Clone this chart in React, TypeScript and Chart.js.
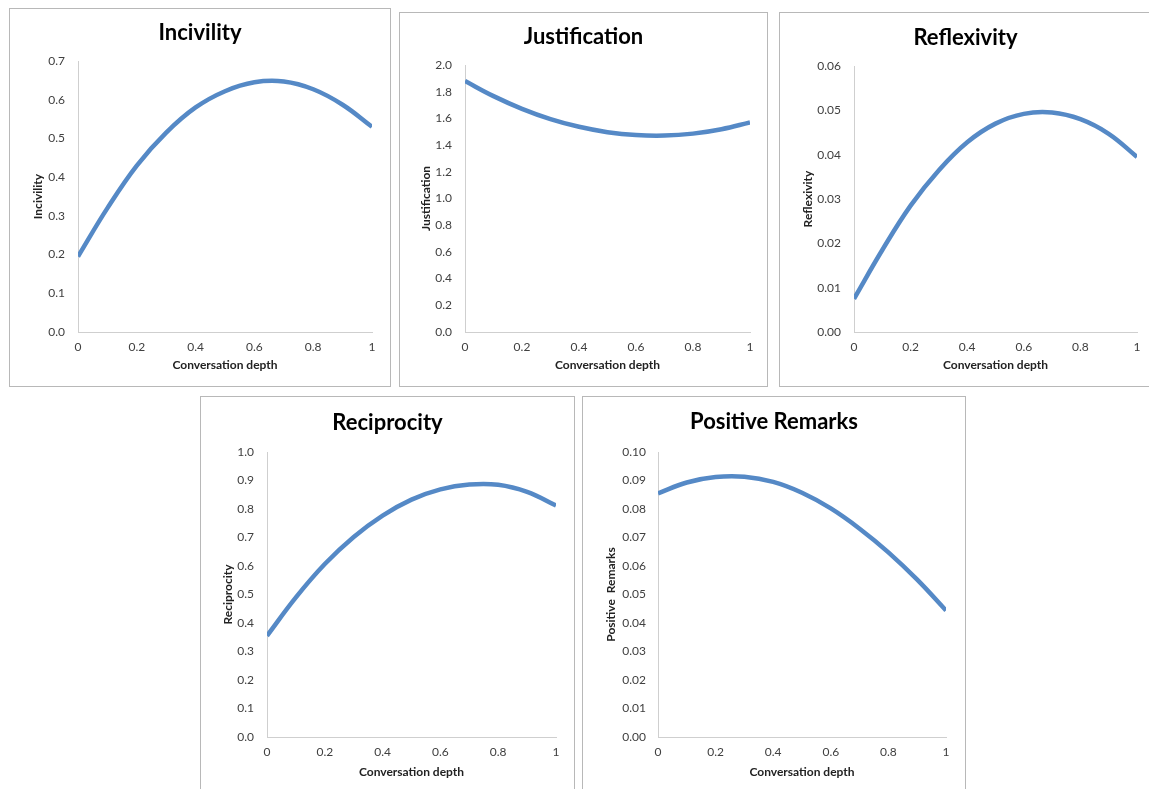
import React, { useEffect, useRef } from "react";
import { Chart, registerables } from "chart.js";

Chart.register(...registerables);

// ---------- data ----------
const depth = [0, 0.1, 0.2, 0.3, 0.4, 0.5, 0.6, 0.7, 0.8, 0.9, 1.0];
const xTicksLabelled = [0, 0.2, 0.4, 0.6, 0.8, 1];

const incivility = [0.195, 0.32, 0.43, 0.515, 0.58, 0.622, 0.645, 0.647, 0.627, 0.587, 0.53];
const justification = [1.88, 1.767, 1.672, 1.595, 1.537, 1.497, 1.475, 1.471, 1.486, 1.519, 1.57];
const reflexivity = [0.0075, 0.0185, 0.0285, 0.0365, 0.0428, 0.047, 0.0492, 0.0495, 0.048, 0.0447, 0.0395];
const reciprocity = [0.355, 0.49, 0.607, 0.702, 0.777, 0.833, 0.869, 0.886, 0.885, 0.86, 0.812];
const positiveRemarks = [0.0855, 0.0893, 0.0912, 0.0913, 0.0895, 0.0857, 0.0802, 0.0731, 0.0648, 0.0552, 0.0444];

const titles = ["Incivility", "Justification", "Reflexivity", "Reciprocity", "Positive Remarks"];
const yAxisTitles = ["Incivility", "Justification", "Reflexivity", "Reciprocity", "Positive  Remarks"];
const xAxisTitle = "Conversation depth";
const yMax = [0.7, 2.0, 0.06, 1.0, 0.1];
const yStep = [0.1, 0.2, 0.01, 0.1, 0.01];
const yDecimals = [1, 1, 2, 1, 2];
const seriesList = [incivility, justification, reflexivity, reciprocity, positiveRemarks];

// ---------- layout (absolute page pixels) ----------
type Box = {
  bl: number; bt: number; br: number; bb: number; // panel border box
  pl: number; pt: number; pr: number; pb: number; // plot area
  titleY: number; yTitleX: number; xTitleY: number; yPad: number;
};
const LAYOUT: Box[] = [
  { bl: 9, bt: 8, br: 391, bb: 387, pl: 78, pt: 61, pr: 372, pb: 332, titleY: 33, yTitleX: 38, xTitleY: 365, yPad: 13 },
  { bl: 399, bt: 12, br: 768, bb: 387, pl: 465, pt: 65, pr: 750, pb: 332, titleY: 37, yTitleX: 426, xTitleY: 365, yPad: 13 },
  { bl: 779, bt: 12, br: 1152, bb: 387, pl: 854, pt: 66, pr: 1137, pb: 332, titleY: 38, yTitleX: 808, xTitleY: 365, yPad: 13 },
  { bl: 200, bt: 396, br: 575, bb: 800, pl: 267, pt: 452, pr: 556, pb: 737, titleY: 423, yTitleX: 228, xTitleY: 772, yPad: 13 },
  { bl: 582, bt: 396, br: 966, bb: 800, pl: 658, pt: 452, pr: 946, pb: 737, titleY: 422, yTitleX: 611, xTitleY: 772, yPad: 12 },
];

const FONT = "Lato, 'Open Sans', sans-serif";
const TITLE_SIZE = 22;
const AXIS_TITLE_SIZE = 12;
const TICK_SIZE = 12;

function Panel({ idx }: { idx: number }) {
  const ref = useRef<HTMLCanvasElement>(null);
  const L = LAYOUT[idx];
  const cw = L.br - L.bl - 2;
  const ch = L.bb - L.bt - 2;
  const cl = L.bl + 1;
  const ct = L.bt + 1;

  useEffect(() => {
    if (!ref.current) return;
    const side = cl + cw - L.pr; // symmetric side padding keeps the title centred on the panel
    const plotTopRel = L.pt - ct;
    const titleTop = L.titleY - ct - (TITLE_SIZE * 1.2) / 2;
    const titleBottom = plotTopRel - titleTop - TITLE_SIZE * 1.2;
    const yScaleWidth = L.pl - cl - side;
    const xScaleHeight = ct + ch - L.pb;
    const yTitlePadTop = Math.max(0, L.yTitleX - cl - side - (AXIS_TITLE_SIZE * 1.2) / 2);
    const xTitlePadBottom = ct + ch - L.xTitleY - (AXIS_TITLE_SIZE * 1.2) / 2;
    const dec = yDecimals[idx];

    const chart = new Chart(ref.current, {
      type: "line",
      data: {
        datasets: [
          {
            data: depth.map((x, i) => ({ x, y: seriesList[idx][i] })),
            borderColor: "#5589c6",
            borderWidth: 4.5,
            pointRadius: 0,
            tension: 0.4,
            fill: false,
            clip: 0,
          },
        ],
      },
      options: {
        animation: false,
        responsive: false,
        devicePixelRatio: 1,
        layout: { padding: { left: side, top: 0, bottom: 0, right: side } },
        plugins: {
          legend: { display: false },
          tooltip: { enabled: false },
          title: {
            display: true,
            text: titles[idx],
            color: "#000000",
            font: { family: FONT, size: TITLE_SIZE, weight: "bold" },
            padding: { top: titleTop, bottom: titleBottom },
          },
        },
        scales: {
          x: {
            type: "linear",
            min: 0,
            max: 1,
            grid: { display: false, drawTicks: false },
            border: { display: true, color: "#cfcfcf", width: 1 },
            afterBuildTicks: (scale: any) => {
              scale.ticks = xTicksLabelled.map((v) => ({ value: v }));
            },
            afterFit: (scale: any) => {
              scale.height = xScaleHeight;
            },
            ticks: {
              color: "#404040",
              font: { family: FONT, size: TICK_SIZE },
              padding: 8,
              maxRotation: 0,
              callback: (v: any) => String(Number(Number(v).toFixed(1))),
            },
            title: {
              display: true,
              text: xAxisTitle,
              color: "#222222",
              font: { family: FONT, size: AXIS_TITLE_SIZE, weight: "bold" },
              padding: { top: 0, bottom: xTitlePadBottom },
            },
          },
          y: {
            type: "linear",
            min: 0,
            max: yMax[idx],
            grid: { display: false, drawTicks: false },
            border: { display: true, color: "#cfcfcf", width: 1 },
            afterFit: (scale: any) => {
              scale.width = yScaleWidth;
            },
            ticks: {
              stepSize: yStep[idx],
              color: "#404040",
              font: { family: FONT, size: TICK_SIZE },
              padding: L.yPad,
              callback: (v: any) => Number(v).toFixed(dec),
            },
            title: {
              display: true,
              text: yAxisTitles[idx],
              color: "#222222",
              font: { family: FONT, size: AXIS_TITLE_SIZE, weight: "bold" },
              padding: { top: yTitlePadTop, bottom: 0 },
            },
          },
        },
      } as any,
    });
    return () => chart.destroy();
  }, [idx]);

  return (
    <div
      style={{
        position: "absolute",
        left: L.bl,
        top: L.bt,
        width: L.br - L.bl,
        height: L.bb - L.bt,
        boxSizing: "border-box",
        border: "1px solid #b8b8b8",
        background: "#ffffff",
      }}
    >
      <canvas ref={ref} width={cw} height={ch} style={{ display: "block", width: cw, height: ch }} />
    </div>
  );
}

export default function App() {
  return (
    <div
      style={{
        position: "absolute",
        left: 0,
        top: 0,
        width: 1149,
        height: 789,
        overflow: "hidden",
        background: "#ffffff",
      }}
    >
      {LAYOUT.map((_, i) => (
        <Panel key={i} idx={i} />
      ))}
    </div>
  );
}
